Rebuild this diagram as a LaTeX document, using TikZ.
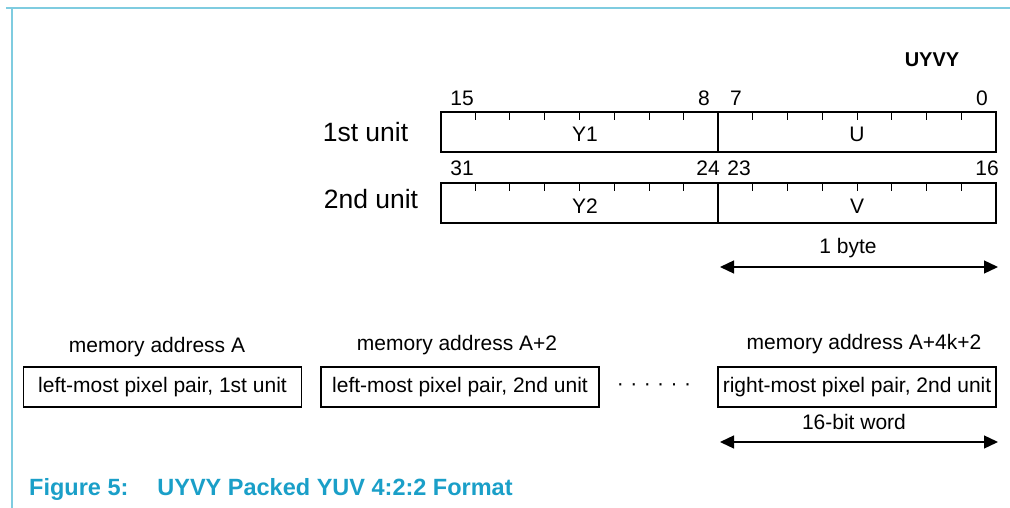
\documentclass[tikz,border=0pt]{standalone}
\usepackage{fontspec}
\setmainfont{Liberation Sans}
\usetikzlibrary{arrows.meta,calc}
\definecolor{framecyan}{HTML}{7FCCE0}
\definecolor{capcyan}{HTML}{1A9FC8}
\newcommand{\mydot}{\char"00B7}
\tikzset{
  field/.style={draw, line width=1.1pt, minimum height=40pt, inner sep=0pt},
  bitnum/.style={font=\fontsize{21}{24}\selectfont, inner sep=0pt},
  unitlbl/.style={font=\fontsize{26.5}{30}\selectfont, inner sep=0pt},
  membox/.style={draw, line width=1.1pt, minimum height=40pt, inner sep=0pt, font=\fontsize{21}{24}\selectfont},
  memlbl/.style={font=\fontsize{21}{24}\selectfont, inner sep=0pt},
  dim/.style={line width=1.3pt, {Triangle[length=14pt,width=13pt]}-{Triangle[length=14pt,width=13pt]}},
  tick/.style={line width=1pt}
}
\begin{document}
\begin{tikzpicture}[x=1pt,y=-1pt]
\useasboundingbox (0,0) rectangle (1010,508);
% frame
\draw[framecyan, line width=1.5pt] (6,8) -- (1010,8);
\draw[framecyan, line width=1.5pt] (12,8) -- (12,508);
% title
\node[font=\fontsize{20}{24}\selectfont\bfseries, inner sep=0pt] (uyvy) at (932,59.5) {UYVY};
% row 1
\node[field, minimum width=277pt] (y1) at (579.5,132) {};
\node[field, minimum width=278pt] (u) at (857,132) {};
\node[bitnum] at (585,134) {Y1};
\node[bitnum] at (857,134) {U};
% row 2
\node[field, minimum width=277pt] (y2) at (579.5,203) {};
\node[field, minimum width=278pt] (v) at (857,203) {};
\node[bitnum] at (585,206) {Y2};
\node[bitnum] at (857,206) {V};
% ticks
\foreach \n in {y1,u,y2,v}{
  \foreach \i in {1,...,7}{
    \draw[tick] ($(\n.north west)!\i/8!(\n.north east)$) -- ++(0,9);
  }
}
% bit numbers
\node[bitnum] (b15) at (462,98) {15};
\node[bitnum] (b8) at (704,98) {8};
\node[bitnum] (b7) at (736,98) {7};
\node[bitnum] (b0) at (982,98) {0};
\node[bitnum] (b31) at (462,168) {31};
\node[bitnum] (b24) at (708,168) {24};
\node[bitnum] (b23) at (739,168) {23};
\node[bitnum] (b16) at (987,168) {16};
% unit labels
\node[unitlbl] (u1) at (365.5,132) {1st unit};
\node[unitlbl] (u2) at (371,199.5) {2nd unit};
% 1 byte
\node[memlbl] (byte) at (848,248) {1 byte};
\coordinate (ba) at (720,267);
\coordinate (bb) at (998,267);
\draw[dim] (ba) -- (bb);
% memory boxes
\node[membox, minimum width=278pt] (m1) at (162.5,387) {left-most pixel pair, 1st unit};
\node[membox, minimum width=278pt] (m2) at (460,387) {left-most pixel pair, 2nd unit};
\node[membox, minimum width=278pt] (m3) at (857,387) {right-most pixel pair, 2nd unit};
\node[memlbl] (a1) at (157,347) {memory address A};
\node[memlbl] (a2) at (457,345) {memory address A+2};
\node[memlbl] (a3) at (864,344) {memory address A+4k+2};
\node[memlbl] (dots) at (654,387) {\mydot\hspace{6.5pt}\mydot\hspace{6.5pt}\mydot\hspace{6.5pt}\mydot\hspace{6.5pt}\mydot\hspace{6.5pt}\mydot};
\node[memlbl] (word) at (854,422) {16-bit word};
\coordinate (wa) at (720,442);
\coordinate (wb) at (998,442);
\draw[dim] (wa) -- (wb);
% caption
\node[anchor=west, text=capcyan, font=\fontsize{23.5}{26}\selectfont\bfseries, inner sep=0pt] (cap) at (29,489) {Figure 5:\hspace{29pt}UYVY Packed YUV 4:2:2 Format};
\end{tikzpicture}
\end{document}
